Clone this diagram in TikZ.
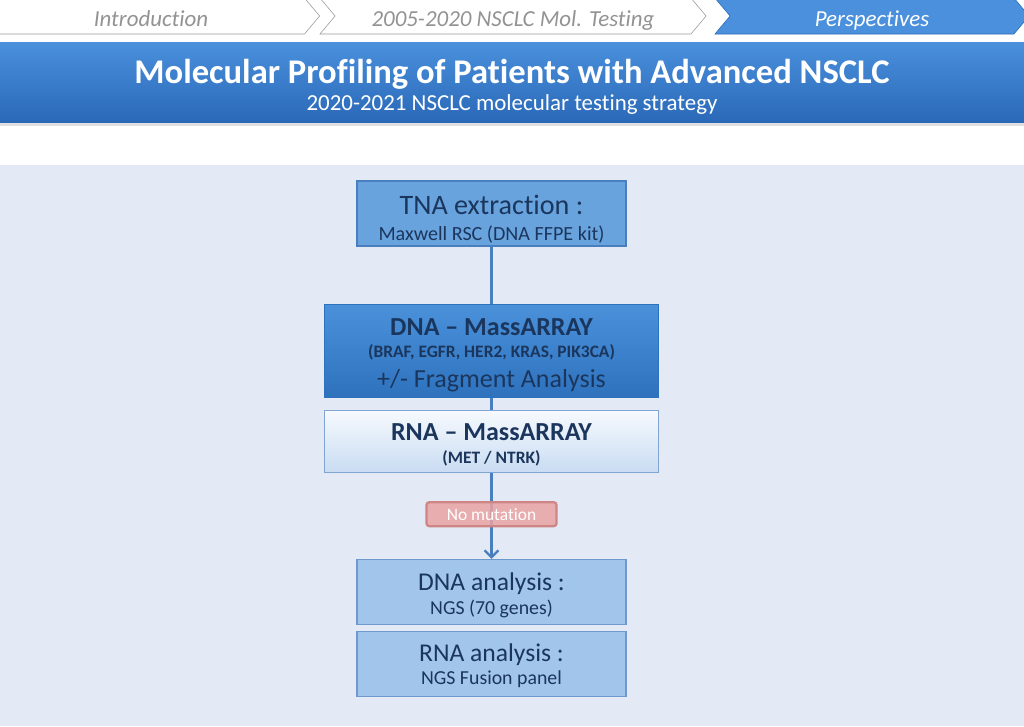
\documentclass[tikz,border=0pt]{standalone}
\usepackage{fontspec}
\setmainfont[Ligatures=NoCommon]{Carlito}
\usetikzlibrary{shapes.symbols, positioning, arrows.meta}

\definecolor{pagebg}{HTML}{E3EAF5}
\definecolor{bannertop}{HTML}{4A90DC}
\definecolor{bannerbot}{HTML}{2A69B8}
\definecolor{navytext}{HTML}{1B365D}
\definecolor{boxline}{HTML}{4A7FBF}
\definecolor{tnafill}{HTML}{68A3DE}
\definecolor{dnatop}{HTML}{4B91DA}
\definecolor{dnabot}{HTML}{2E72BE}
\definecolor{rnatop}{HTML}{F7FAFE}
\definecolor{rnabot}{HTML}{C9DCF2}
\definecolor{ngsfill}{HTML}{A2C5EB}
\definecolor{tagfill}{HTML}{E9A3A3}
\definecolor{tagline}{HTML}{D08585}

% invisible strut to push a block of text down a bit
\newcommand{\lift}[1]{\rule{0pt}{#1}}

\begin{document}
\begin{tikzpicture}[
x=0.025cm, y=-0.025cm,
node distance=1.425cm,
>={Straight Barb[length=5pt, width=10pt]},
crumb/.style={signal, signal to=east, signal pointer angle=100, minimum height=0.9cm, inner sep=0pt, text height=15pt, text depth=0pt, font=\fontsize{16.3}{18}\selectfont\itshape},
crumbdone/.style={crumb, draw=gray!80, fill=white, text=gray!85},
crumbnow/.style={crumb, draw=bannerbot, fill=bannertop, text=white},
stepbox/.style={rectangle, draw=boxline, thick, align=center, text=navytext, inner sep=2pt},
tnabox/.style={stepbox, fill=tnafill, minimum width=6.725cm, minimum height=1.625cm},
massbox/.style={stepbox, minimum width=8.35cm},
ngsbox/.style={stepbox, fill=ngsfill, draw=boxline!80, minimum width=6.725cm, minimum height=1.625cm},
tag/.style={rectangle, rounded corners=2pt, draw=tagline, fill=tagfill, fill opacity=0.85, text opacity=1, text=white, minimum width=3.25cm, minimum height=0.6cm, font=\fontsize{12.4}{14}\selectfont},
line/.style={boxline, line width=1.6pt}
]

% Background
\useasboundingbox (0,0) rectangle (1024,726);
\fill[white] (0,0) rectangle (1024,726);
\fill[pagebg] (0,165) rectangle (1024,726);
\fill[black!12] (0,121) rectangle (1024,126);
\shade[top color=bannertop, bottom color=bannerbot] (0,42) rectangle (1024,122);

% Breadcrumbs
\node[crumbdone, minimum width=8.05cm] (intro) at (151,16) {Introduction};
\node[crumbdone, signal from=west, minimum width=9.65cm] (past) at (513,16) {2005-2020 NSCLC Mol. Testing};
\node[crumbnow, signal from=west, minimum width=7.85cm] (persp) at (872,16) {Perspectives};

% Title
\node[text=white, font=\fontsize{24.6}{28}\selectfont\bfseries] (title) at (512,74) {Molecular Profiling of Patients with Advanced NSCLC};
\node[text=white, font=\fontsize{16.3}{18}\selectfont] (subtitle) at (512,105) {2020-2021 NSCLC molecular testing strategy};

% Nodes
\node[tnabox] (tna) at (491.5,213.5) {\lift{22pt}{\fontsize{20}{22}\selectfont TNA extraction :}\\[6pt]{\fontsize{14.3}{16}\selectfont Maxwell RSC (DNA FFPE kit)}};
\node[massbox, top color=dnatop, bottom color=dnabot, draw=dnabot, minimum height=2.325cm, below=of tna] (dnamass) {\lift{19pt}{\fontsize{18.5}{20}\selectfont\bfseries DNA -- MassARRAY}\\[3.5pt]{\fontsize{12.4}{14}\selectfont\bfseries (BRAF, EGFR, HER2, KRAS, PIK3CA)}\\[5.5pt]{\fontsize{18.5}{20}\selectfont +/- Fragment Analysis}};
\node[massbox, top color=rnatop, bottom color=rnabot, draw=boxline!70, minimum height=1.55cm, below=0.3cm of dnamass] (rnamass) {\lift{17.5pt}{\fontsize{18.5}{20}\selectfont\bfseries RNA -- MassARRAY}\\[4.5pt]{\fontsize{12.4}{14}\selectfont\bfseries (MET / NTRK)}};
\node[ngsbox, below=2.15cm of rnamass] (dnangs) {\lift{17pt}{\fontsize{18.2}{20}\selectfont DNA analysis :}\\[3pt]{\fontsize{14.1}{16}\selectfont NGS (70 genes)}};
\node[ngsbox, below=0.15cm of dnangs] (rnangs) {\lift{15pt}{\fontsize{18.2}{20}\selectfont RNA analysis :}\\[3pt]{\fontsize{14.1}{16}\selectfont NGS Fusion panel}};

% Connections
\draw[line] (tna) -- (dnamass);
\draw[line] (dnamass) -- (rnamass);
\draw[line, ->] (rnamass) -- node[tag, pos=0.48] (nomut) {No mutation} (dnangs);

\end{tikzpicture}
\end{document}
